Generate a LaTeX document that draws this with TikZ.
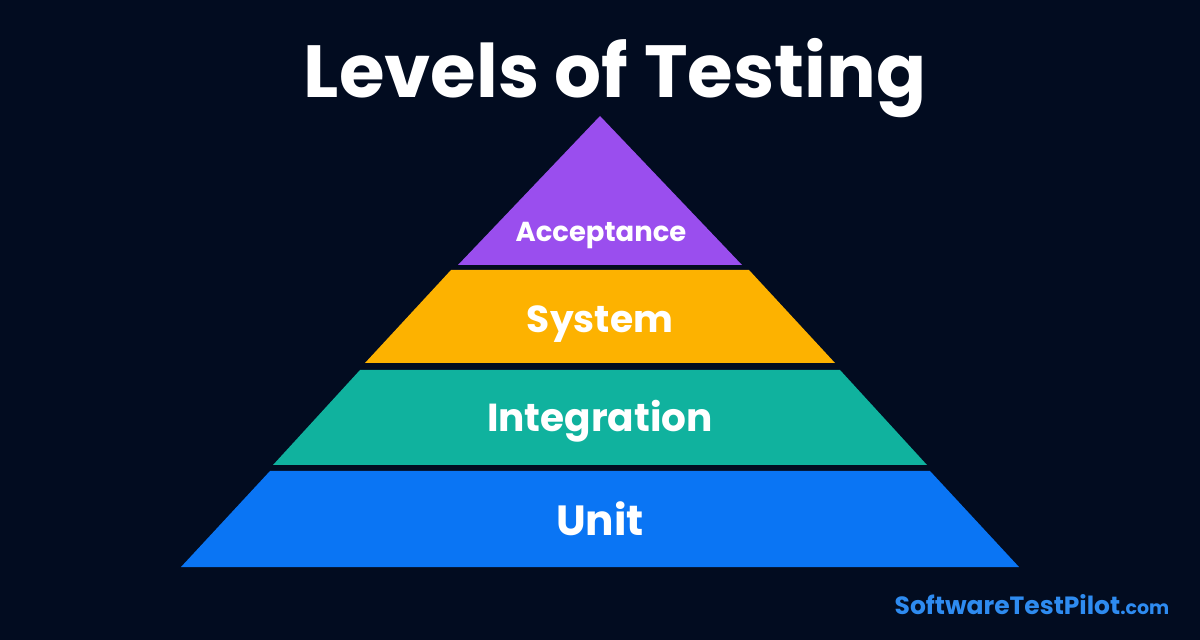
\documentclass[tikz,border=0pt]{standalone}
\usepackage{fontspec}
\setmainfont{Poppins}
\usepackage{tikz}
\definecolor{bgnavy}{HTML}{020C20}
\definecolor{accpurple}{HTML}{9A4EEE}
\definecolor{sysyellow}{HTML}{FDB200}
\definecolor{intteal}{HTML}{10B29E}
\definecolor{unitblue}{HTML}{0A75F4}
\definecolor{markblue}{HTML}{2E8BF0}
\tikzset{
  every picture/.style={line join=round, line cap=round},
  lvl/.style={text=white, inner sep=0pt, anchor=base},
  title/.style={text=white, font=\bfseries\fontsize{21}{24}\selectfont, inner sep=0pt, anchor=base},
}

\begin{document}
\begin{tikzpicture}[x=0.01cm,y=-0.01cm]
\fill[bgnavy] (0,0) rectangle (1200,640);
\useasboundingbox (0,0) rectangle (1200,640);
\node[title] (heading) at (615,98) {Levels of Testing};
% layers: top y / top half-width / bottom y / bottom half-width
\foreach \ya/\wa/\yb/\wb/\col in {116/0/265/142/accpurple, 270/149/363/235/sysyellow,
    370/240/465/327/intteal, 471/330/567/419/unitblue}
  \fill[\col] (600-\wa,\ya)--(600+\wa,\ya)--(600+\wb,\yb)--(600-\wb,\yb)--cycle;
\node[lvl,font=\bfseries\fontsize{7.8}{9}\selectfont] (acceptance) at (601,242) {Acceptance};
\node[lvl,font=\bfseries\fontsize{10.7}{12}\selectfont] (system) at (600,333) {System};
\node[lvl,font=\bfseries\fontsize{11.1}{13}\selectfont] (integration) at (600,432) {Integration};
\node[lvl,font=\bfseries\fontsize{12}{14}\selectfont] (unit) at (600,535) {Unit};
\node[inner sep=0pt,text=markblue,anchor=base east] (mark) at (1170,614)
  {\bfseries\fontsize{7.1}{9}\selectfont SoftwareTestPilot\fontsize{5.4}{7}\selectfont.com};
\end{tikzpicture}
\end{document}
